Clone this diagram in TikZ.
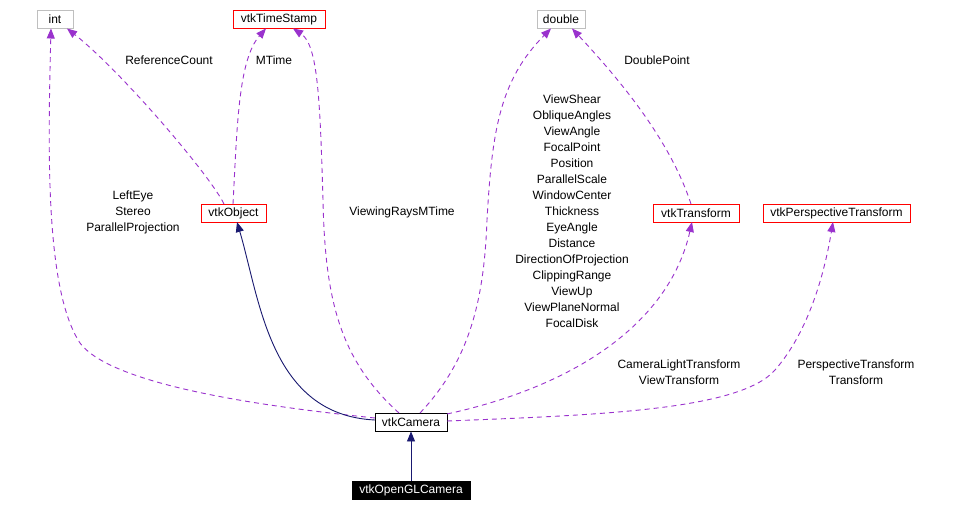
\documentclass[tikz,border=0pt]{standalone}
\usepackage{fontspec}
\setmainfont{Liberation Sans}
\usetikzlibrary{arrows.meta}
\definecolor{usecol}{HTML}{9A32CD}
\definecolor{inhcol}{HTML}{191970}
\definecolor{redcol}{HTML}{FF0000}
\definecolor{graycol}{HTML}{BFBFBF}
\tikzset{
  cls/.style={draw, line width=0.9pt, minimum height=18pt, inner sep=0pt,
    font=\fontsize{12}{16}\selectfont, anchor=center},
  redcls/.style={cls, draw=redcol},
  graycls/.style={cls, draw=graycol},
  blackcls/.style={cls, draw=black},
  usage/.style={draw=usecol, line width=0.9pt, dash pattern=on 5pt off 4pt,
    -{Triangle[length=10pt,width=8pt]}, fill=none},
  inherit/.style={draw=inhcol, line width=0.9pt,
    -{Triangle[length=10pt,width=8pt]}},
  lbl/.style={font=\fontsize{12}{16}\selectfont, align=center, inner sep=0pt}
}
\begin{document}
\begin{tikzpicture}[x=1pt,y=-1pt]
\path[use as bounding box, fill=white] (0,0) rectangle (969,514);

% nodes
\node[graycls, minimum width=36pt] (int) at (55,19.5) {int};
\node[redcls, minimum width=92pt] (ts) at (279,19.5) {vtkTimeStamp};
\node[graycls, minimum width=48pt] (dbl) at (561,19.5) {double};
\node[redcls, minimum width=65pt] (obj) at (233.5,213) {vtkObject};
\node[redcls, minimum width=86pt] (tr) at (696,213) {vtkTransform};
\node[redcls, minimum width=147pt] (ptr) at (836.5,213) {vtkPerspectiveTransform};
\node[blackcls, minimum width=72pt] (cam) at (411,422) {vtkCamera};
\node[cls, fill=black, text=white, minimum width=118pt] (ogl) at (411,490) {vtkOpenGLCamera};

% anchor coordinates
\coordinate (intS) at (51,28.5);
\coordinate (intSE) at (67,28.5);
\coordinate (tsSW) at (266,28.5);
\coordinate (tsSE) at (293,28.5);
\coordinate (dblSW) at (551,28.5);
\coordinate (dblSE) at (572,28.5);
\coordinate (objN1) at (224,204);
\coordinate (objN2) at (233,204);
\coordinate (objS) at (237,222);
\coordinate (trN) at (691,204);
\coordinate (trS) at (692,222);
\coordinate (ptrS) at (833,222);
\coordinate (camW1) at (375,418);
\coordinate (camW2) at (375,420);
\coordinate (camN1) at (399,413);
\coordinate (camN2) at (420,413);
\coordinate (camE1) at (447,414);
\coordinate (camE2) at (447,421);

% usage edges
\draw[usage] (camW1) .. controls (300,410) and (115,390) .. (80,343)
  .. controls (45,290) and (48,150) .. (intS);
\draw[usage] (objN1) .. controls (210,175) and (120,70) .. (intSE);
\draw[usage] (objN2) .. controls (237,130) and (238,60) .. (tsSW);
\draw[usage] (camN1) .. controls (340,360) and (325,300) .. (323,200)
  .. controls (320,100) and (318,45) .. (tsSE);
\draw[usage] (camN2) .. controls (470,360) and (484,300) .. (487,220)
  .. controls (492,130) and (500,80) .. (dblSW);
\draw[usage] (trN) .. controls (670,140) and (620,80) .. (dblSE);
\draw[usage] (camE1) .. controls (580,385) and (670,320) .. (trS);
\draw[usage] (camE2) .. controls (600,415) and (740,410) .. (775,370)
  .. controls (810,330) and (825,270) .. (ptrS);

% inheritance edges
\draw[inherit] (camW2) .. controls (270,415) and (260,300) .. (objS);
\draw[inherit] (ogl.north) -- (cam.south);

% labels
\node[lbl] (l1) at (133,212) {LeftEye\\Stereo\\ParallelProjection};
\node[lbl] (l2) at (169,60) {ReferenceCount};
\node[lbl] (l3) at (274,60) {MTime};
\node[lbl] (l4) at (402,212) {ViewingRaysMTime};
\node[lbl] (l5) at (572,211) {ViewShear\\ObliqueAngles\\ViewAngle\\FocalPoint\\Position\\ParallelScale\\WindowCenter\\Thickness\\EyeAngle\\Distance\\DirectionOfProjection\\ClippingRange\\ViewUp\\ViewPlaneNormal\\FocalDisk};
\node[lbl] (l6) at (657,60) {DoublePoint};
\node[lbl] (l7) at (679,372) {CameraLightTransform\\ViewTransform};
\node[lbl] (l8) at (856,372) {PerspectiveTransform\\Transform};
\end{tikzpicture}
\end{document}
